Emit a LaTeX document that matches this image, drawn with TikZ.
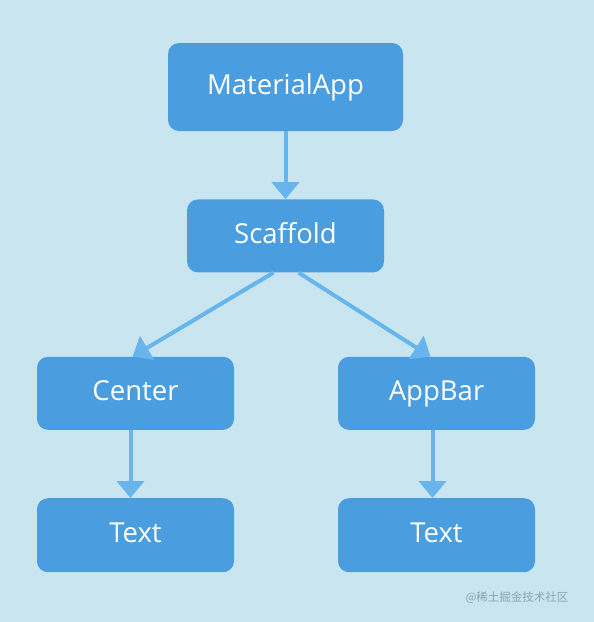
\documentclass[tikz,border=0pt]{standalone}
\usepackage{fontspec}
\setmainfont{Open Sans}
\newfontfamily\cjkfont{Noto Sans CJK SC}
\usetikzlibrary{arrows.meta, positioning}
\definecolor{bgblue}{RGB}{201,230,240}
\definecolor{boxblue}{RGB}{74,158,224}
\definecolor{arrowblue}{RGB}{104,180,236}
\definecolor{markgrey}{RGB}{140,165,175}

\begin{document}
\begin{tikzpicture}[>={Triangle[width=27pt,length=17pt]},
    font=\fontsize{27.5}{32}\selectfont, node distance=68pt]
  \tikzset{
    widget/.style={fill=boxblue, text=white, rounded corners=11pt,
      minimum width=197pt, minimum height=73pt, inner sep=0pt,
      text height=19.5pt, text depth=5pt},
    link/.style={->, draw=arrowblue, fill=arrowblue, line width=4pt},
  }
  % background
  \fill[bgblue] (0,0) rectangle (594pt,-622pt);
  \useasboundingbox (0,0) rectangle (594pt,-622pt);

  \node[widget, minimum width=235pt, minimum height=88pt] (MA)
    at (285.5pt,-87pt) {MaterialApp};
  \node[widget, below=of MA] (SC) {Scaffold};
  \node[widget, below=84pt of SC, xshift=-150pt] (CE) {Center};
  \node[widget, below=84pt of SC, xshift=151pt] (AB) {AppBar};
  \node[widget, minimum height=74pt, below=of CE] (T1) {Text};
  \node[widget, minimum height=74pt, below=of AB] (T2) {Text};

  % arrows
  \draw[link] (MA) -- (SC);
  \draw[link] ([xshift=-12pt]SC.south) -- ([xshift=-3pt]CE.north);
  \draw[link] ([xshift=13pt]SC.south) -- ([xshift=-6pt]AB.north);
  \draw[link] ([xshift=-5pt]CE.south) -- ([xshift=-5pt]T1.north);
  \draw[link] ([xshift=-4pt]AB.south) -- ([xshift=-4pt]T2.north);

  % watermark
  \node[font=\cjkfont\fontsize{11.5}{14}\selectfont, text=markgrey,
    anchor=east] (mark) at (572pt,-598pt) {@稀土掘金技术社区};
\end{tikzpicture}
\end{document}
